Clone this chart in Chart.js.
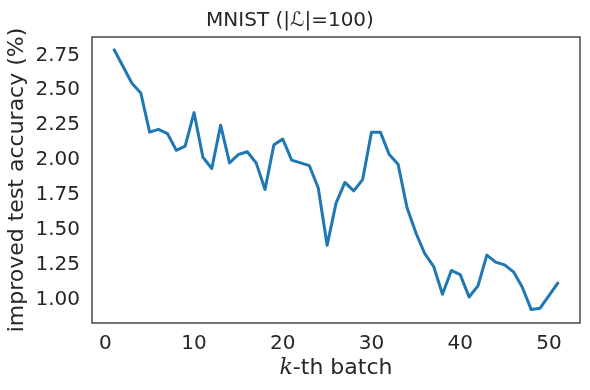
<!DOCTYPE html>
<html>
<head>
<meta charset="utf-8">
<script src="https://cdn.jsdelivr.net/npm/chart.js@4"></script>
<style>
  html, body { margin: 0; padding: 0; background: #fff; }
  #wrap { width: 590px; height: 390px; }
</style>
</head>
<body>
<div id="wrap"><canvas id="chart" width="590" height="390"></canvas></div>
<script>
// ── data ──
const BATCHES = [1, 2, 3, 4, 5, 6, 7, 8, 9, 10, 11, 12, 13, 14, 15, 16, 17, 18, 19, 20,
  21, 22, 23, 24, 25, 26, 27, 28, 29, 30, 31, 32, 33, 34, 35, 36, 37, 38, 39, 40,
  41, 42, 43, 44, 45, 46, 47, 48, 49, 50, 51];
const ACCURACY = [2.79, 2.67, 2.55, 2.48, 2.20, 2.22, 2.19, 2.07, 2.10, 2.34,
  2.02, 1.94, 2.25, 1.98, 2.04, 2.06, 1.98, 1.79, 2.11, 2.15,
  2.00, 1.98, 1.96, 1.80, 1.39, 1.69, 1.84, 1.78, 1.86, 2.20,
  2.20, 2.04, 1.97, 1.66, 1.48, 1.33, 1.24, 1.04, 1.21, 1.18,
  1.02, 1.10, 1.32, 1.27, 1.25, 1.20, 1.09, 0.93, 0.94, 1.03, 1.12];
const X_TICKS = [0, 10, 20, 30, 40, 50];
const Y_TICKS = [1.00, 1.25, 1.50, 1.75, 2.00, 2.25, 2.50, 2.75];

const INK = '#262626';
const FONT = "'DejaVu Sans', sans-serif";

// frame around the plot area (all four spines)
const framePlugin = {
  id: 'frame',
  afterDatasetsDraw(chart) {
    const { ctx, chartArea: a } = chart;
    ctx.save();
    ctx.strokeStyle = INK;
    ctx.lineWidth = 1.25;
    ctx.strokeRect(a.left, a.top, a.right - a.left, a.bottom - a.top);
    ctx.restore();
  },
};

// x axis title with math-italic k
const xTitlePlugin = {
  id: 'xTitle',
  afterDraw(chart) {
    const { ctx, chartArea: a } = chart;
    const y = 368;
    const cx = (a.left + a.right) / 2;
    const italic = "italic 22px 'DejaVu Serif', serif";
    const plain = '22px ' + FONT;
    ctx.save();
    ctx.fillStyle = INK;
    ctx.textBaseline = 'middle';
    ctx.textAlign = 'left';
    ctx.font = italic;
    const wk = ctx.measureText('k').width;
    ctx.font = plain;
    const wr = ctx.measureText('-th batch').width;
    const x0 = cx - (wk + wr) / 2;
    ctx.font = italic;
    ctx.fillText('k', x0, y);
    ctx.font = plain;
    ctx.fillText('-th batch', x0 + wk, y);
    ctx.restore();
  },
};

const points = BATCHES.map((b, i) => ({ x: b, y: ACCURACY[i] }));

new Chart(document.getElementById('chart'), {
  type: 'line',
  data: {
    datasets: [{
      data: points,
      borderColor: '#1f77b4',
      borderWidth: 3,
      pointRadius: 0,
      fill: false,
      tension: 0,
      borderJoinStyle: 'round',
      borderCapStyle: 'round',
    }],
  },
  options: {
    responsive: false,
    animation: false,
    layout: { padding: { left: 0, right: 10, top: 0, bottom: 0 } },
    plugins: {
      legend: { display: false },
      tooltip: { enabled: false },
      title: {
        display: true,
        text: 'MNIST (|ℒ|=100)',
        color: INK,
        font: { family: FONT, size: 20, weight: 'normal', lineHeight: 1.2 },
        padding: { top: 9, bottom: 4 },
      },
    },
    scales: {
      x: {
        type: 'linear',
        min: -1.5,
        max: 53.5,
        afterBuildTicks: axis => { axis.ticks = X_TICKS.map(v => ({ value: v })); },
        afterFit: axis => { axis.height = 67; },
        grid: { display: false, drawTicks: false },
        border: { display: false },
        ticks: { color: INK, font: { family: FONT, size: 20 }, padding: 9, maxRotation: 0 },
      },
      y: {
        type: 'linear',
        min: 0.834,
        max: 2.881,
        afterBuildTicks: axis => { axis.ticks = Y_TICKS.map(v => ({ value: v })); },
        afterFit: axis => { axis.width = 92; },
        grid: { display: false, drawTicks: false },
        border: { display: false },
        ticks: {
          color: INK,
          font: { family: FONT, size: 20 },
          padding: 12,
          callback: v => Number(v).toFixed(2),
        },
        title: {
          display: true,
          text: 'improved test accuracy (%)',
          color: INK,
          font: { family: FONT, size: 22 },
          padding: { top: 4, bottom: 0 },
        },
      },
    },
  },
  plugins: [framePlugin, xTitlePlugin],
});
</script>
</body>
</html>
